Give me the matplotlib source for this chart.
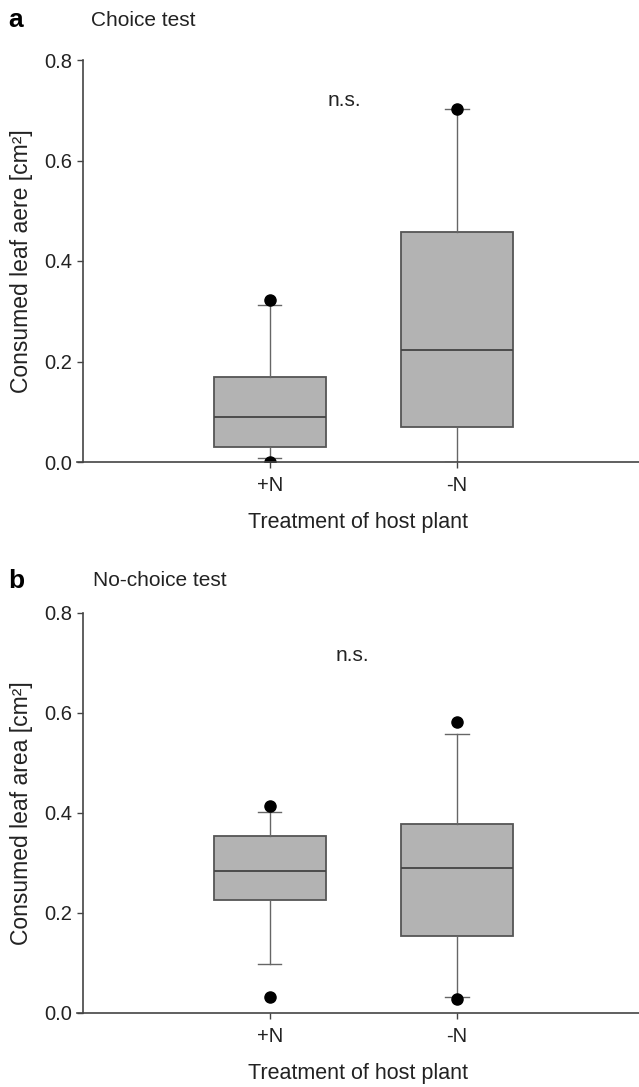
import matplotlib
matplotlib.use("Agg")
import matplotlib.pyplot as plt

plt.rcParams['font.family'] = ['Liberation Sans', 'DejaVu Sans']

groups = ["+N", "-N"]

# panel a: choice test (q1, median, q3, whisker low, whisker high, outliers)
a_q1 = [0.029, 0.069]
a_med = [0.089, 0.222]
a_q3 = [0.170, 0.458]
a_wlo = [0.007, 0.0]
a_whi = [0.313, 0.703]
a_fliers = [[0.0, 0.323], [0.703]]

# panel b: no-choice test
b_q1 = [0.227, 0.155]
b_med = [0.285, 0.290]
b_q3 = [0.354, 0.378]
b_wlo = [0.099, 0.032]
b_whi = [0.402, 0.559]
b_fliers = [[0.033, 0.414], [0.029, 0.582]]

# position of the "n.s." note (x in category units, y in data units)
ns_pos = [(1.40, 0.72), (1.44, 0.715)]

panels = [
    ("a", "Choice test", "Consumed leaf aere [cm²]", a_q1, a_med, a_q3, a_wlo, a_whi, a_fliers),
    ("b", "No-choice test", "Consumed leaf area [cm²]", b_q1, b_med, b_q3, b_wlo, b_whi, b_fliers),
]

W, H = 639, 1087
fig = plt.figure(figsize=(W / 100, H / 100), dpi=100)

# axes boxes in pixels: (left, top, bottom, title y, title x)
boxes = [(77, 60, 462, 20, 91), (77, 613, 1013, 581, 93)]

for (letter, title, ylabel, q1, med, q3, wlo, whi, fl), (l, t, b, ty, tx), (nx, ny) in zip(panels, boxes, ns_pos):
    ax = fig.add_axes([l / W, 1 - b / H, 1 - l / W, (b - t) / H])
    stats = []
    for i in range(len(groups)):
        stats.append(dict(q1=q1[i], med=med[i], q3=q3[i], whislo=wlo[i],
                          whishi=whi[i], fliers=fl[i], label=groups[i]))
    ax.bxp(stats, positions=[1, 2], widths=0.6, patch_artist=True,
           showfliers=True,
           boxprops=dict(facecolor="#b3b3b3", edgecolor="#555555", linewidth=1.3),
           medianprops=dict(color="#444444", linewidth=1.3),
           whiskerprops=dict(color="#666666", linewidth=1.0),
           capprops=dict(color="#666666", linewidth=1.0),
           capwidths=0.125,
           flierprops=dict(marker="o", markerfacecolor="black",
                           markeredgecolor="black", markersize=8))
    ax.set_xlim(-0.03, 2.973)
    ax.set_ylim(0, 0.8)
    ax.set_yticks([0.0, 0.2, 0.4, 0.6, 0.8])
    ax.set_yticklabels(["0.0", "0.2", "0.4", "0.6", "0.8"])
    ax.set_xticks([1, 2])
    ax.set_xticklabels(groups)
    ax.spines["left"].set_position(("data", 0))
    ax.spines["top"].set_visible(False)
    ax.spines["right"].set_visible(False)
    for s in ["left", "bottom"]:
        ax.spines[s].set_color("#444444")
        ax.spines[s].set_linewidth(1.2)
    ax.tick_params(axis="both", direction="out", length=4, width=1,
                   color="#444444", labelsize=14.5, labelcolor="#222222")
    ax.tick_params(axis="x", pad=6)
    ax.set_facecolor("none")
    ax.set_ylabel(ylabel, fontsize=16.5, color="#222222", labelpad=8)
    ax.set_xlabel("Treatment of host plant", fontsize=15.5, color="#222222", labelpad=12)
    ax.text(nx, ny, "n.s.", fontsize=15, color="#222222", ha="center", va="center")
    fig.text(8 / W, 1 - ty / H, letter, fontsize=19, fontweight="bold",
             ha="left", va="center")
    fig.text(tx / W, 1 - ty / H, title, fontsize=15, color="#222222",
             ha="left", va="center")

fig.savefig("out.png", dpi=100)
